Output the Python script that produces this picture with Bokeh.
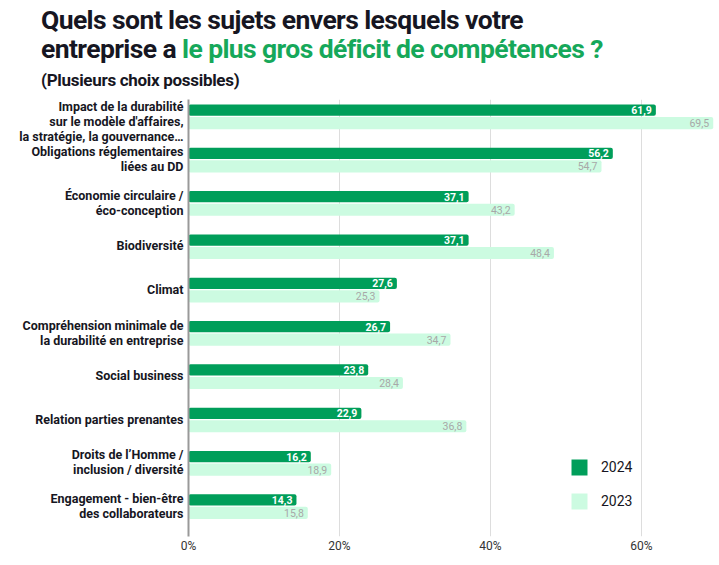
from bokeh.plotting import figure
from bokeh.models import (ColumnDataSource, Range1d, FixedTicker, LabelSet, Legend,
                          LegendItem, Div, CustomJSTickFormatter)
from bokeh.layouts import column
from bokeh.embed import file_html
from bokeh.resources import INLINE
from bokeh.core.properties import value

categories = [
    "Impact de la durabilité\nsur le modèle d'affaires,\nla stratégie, la gouvernance…",
    "Obligations réglementaires\nliées au DD",
    "Économie circulaire /\néco-conception",
    "Biodiversité",
    "Climat",
    "Compréhension minimale de\nla durabilité en entreprise",
    "Social business",
    "Relation parties prenantes",
    "Droits de l’Homme /\ninclusion / diversité",
    "Engagement - bien-être\ndes collaborateurs",
]
values_2024 = [61.9, 56.2, 37.1, 37.1, 27.6, 26.7, 23.8, 22.9, 16.2, 14.3]
values_2023 = [69.5, 54.7, 43.2, 48.4, 25.3, 34.7, 28.4, 36.8, 18.9, 15.8]
x_ticks = [0, 20, 40, 60]

GREEN = "#009e5a"
LIGHT = "#ccfbe1"
FONT = "Roboto"

n = len(categories)
idx = list(range(n))
src24 = ColumnDataSource(dict(
    y=[i + 0.245 for i in idx], v=values_2024,
    lab=[f"{v:.1f}".replace(".", ",") for v in values_2024]))
src23 = ColumnDataSource(dict(
    y=[i + 0.545 for i in idx], v=values_2023,
    lab=[f"{v:.1f}".replace(".", ",") for v in values_2023]))

title = Div(
    text=(
        '<div style="font-family:Roboto;font-weight:700;font-size:26.5px;line-height:29px;'
        'color:#161622;letter-spacing:-0.6px;">'
        'Quels sont les sujets envers lesquels votre<br>entreprise a '
        '<span style="color:#16a85a">le plus gros déficit de compétences ?</span></div>'
        '<div style="font-family:Roboto;font-weight:700;font-size:17px;color:#161622;'
        'margin-top:5px;letter-spacing:-0.3px;">(Plusieurs choix possibles)</div>'
    ),
    width=700, height=85, styles={"padding-left": "36px", "padding-top": "0px"},
)

p = figure(width=715, height=460, output_backend="svg", toolbar_location=None,
           x_range=Range1d(0, 69.8), y_range=Range1d(10.09, 0),
           min_border_left=188, min_border_right=0, min_border_top=4,
           min_border_bottom=10)
p.outline_line_color = None

r24 = p.hbar(y="y", right="v", left=0, height=0.26, source=src24,
             fill_color=GREEN, line_color=None, border_radius=2)
r23 = p.hbar(y="y", right="v", left=0, height=0.28, source=src23,
             fill_color=LIGHT, line_color=None, border_radius=2)

p.add_layout(LabelSet(x="v", y="y", text="lab", source=src24, x_offset=-4,
                      text_align="right", text_baseline="middle",
                      text_font=value(FONT), text_font_size="10.5px",
                      text_font_style="bold", text_color="white"))
p.add_layout(LabelSet(x="v", y="y", text="lab", source=src23, x_offset=-4,
                      text_align="right", text_baseline="middle",
                      text_font=value(FONT), text_font_size="10.5px",
                      text_color="#a8a8a8"))

# x axis
p.xaxis.ticker = FixedTicker(ticks=x_ticks)
p.xaxis.formatter = CustomJSTickFormatter(code="return tick + '%';")
p.xaxis.axis_line_color = None
p.xaxis.major_tick_line_color = None
p.xaxis.minor_tick_line_color = None
p.xaxis.major_tick_out = 0
p.xaxis.major_label_standoff = 2
p.xaxis.major_label_text_font = FONT
p.xaxis.major_label_text_font_size = "12px"
p.xaxis.major_label_text_color = "#333333"

# y axis with category labels
tick_pos = [i + 0.38 for i in idx]
tick_pos[0] = 0.5
p.yaxis.ticker = FixedTicker(ticks=tick_pos)
p.yaxis.major_label_overrides = {t: c for t, c in zip(tick_pos, categories)}
p.yaxis.axis_line_color = "#999999"
p.yaxis.axis_line_width = 2
p.yaxis.major_tick_line_color = None
p.yaxis.minor_tick_line_color = None
p.yaxis.major_tick_out = 0
p.yaxis.major_label_standoff = 5
p.yaxis.major_label_text_font = FONT
p.yaxis.major_label_text_font_size = "12.5px"
p.yaxis.major_label_text_font_style = "bold"
p.yaxis.major_label_text_color = "#161622"
p.yaxis.major_label_text_align = "right"
p.yaxis.major_label_text_line_height = 1.0

p.xgrid.ticker = FixedTicker(ticks=x_ticks)
p.xgrid.grid_line_color = "#dddddd"
p.ygrid.grid_line_color = None

legend = Legend(items=[LegendItem(label="2024", renderers=[r24]),
                       LegendItem(label="2023", renderers=[r23])],
                location=(381, 25), glyph_width=20, glyph_height=20,
                label_standoff=12, spacing=14, padding=0, margin=0,
                border_line_color=None, background_fill_alpha=0,
                label_text_font=FONT, label_text_font_size="14px",
                label_text_color="#161622")
p.add_layout(legend)

layout = column(title, p, spacing=0)
open("out.html", "w").write(file_html(layout, INLINE))
